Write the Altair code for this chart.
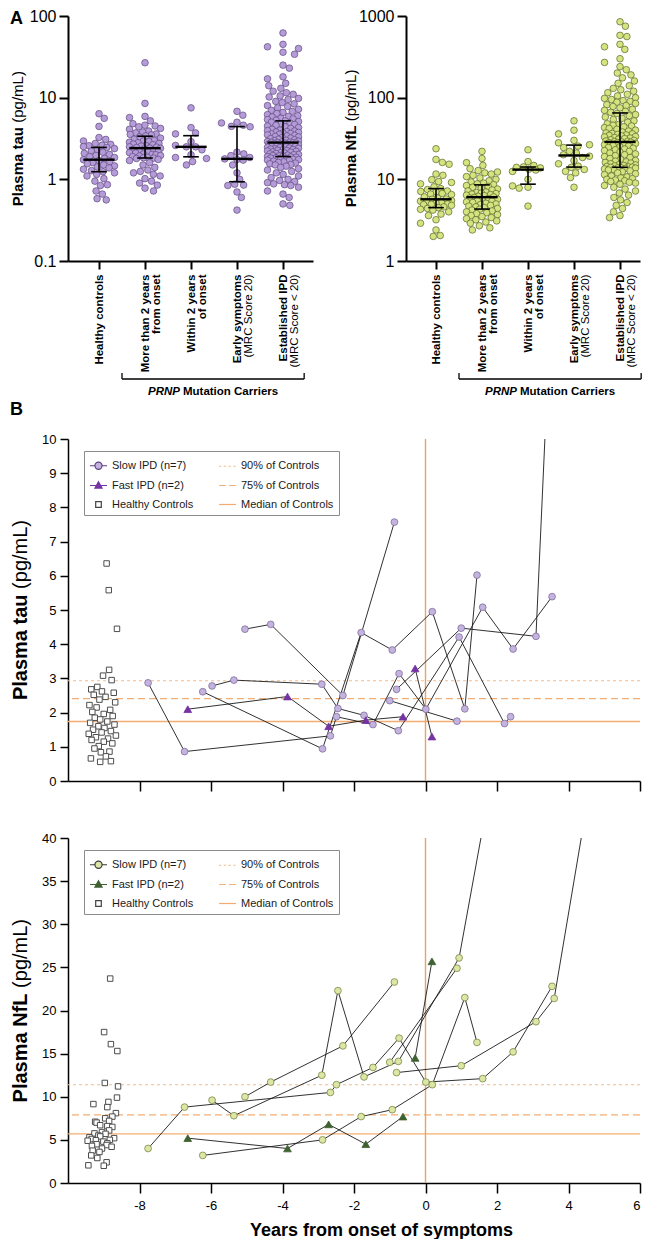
import math
import altair as alt
import numpy as np
import pandas as pd

FONT = "Liberation Sans"
UNIT = "(pg/mL)"

# ---------------- Panel A : groups ----------------
group_line1 = ["Healthy controls", "More than 2 years", "Within 2 years",
               "Early symptoms", "Established IPD"]
group_line2 = ["", "from onset", "of onset", "(MRC Score 20)", "(MRC Score < 20)"]
group_line2_bold = [True, True, True, False, False]
carrier_span = [0.5, 4.46]
carrier_words = ["PRNP", "Mutation Carriers"]
carrier_split = [1.76]

tau_healthy = [6.36, 5.58, 4.45, 3.25, 3.08, 2.95, 2.75, 2.68, 2.62, 2.58,
               2.52, 2.46, 2.38, 2.3, 2.22, 2.15, 2.08, 2.02, 1.96, 1.9,
               1.85, 1.8, 1.74, 1.7, 1.65, 1.6, 1.55, 1.5, 1.46, 1.42,
               1.38, 1.33, 1.28, 1.24, 1.2, 1.15, 1.1, 1.02, 0.95, 0.86,
               0.84, 0.72, 0.66, 0.58, 0.56]
tau_more2 = [26.8, 8.5, 5.9, 5.7, 5.2, 4.8, 4.6, 4.5, 4.4, 4.2,
             4.1, 3.9, 3.8, 3.7, 3.6, 3.55, 3.5, 3.4, 3.3, 3.2,
             3.1, 3.0, 2.95, 2.9, 2.85, 2.8, 2.75, 2.7, 2.65, 2.6,
             2.55, 2.5, 2.48, 2.45, 2.42, 2.4, 2.35, 2.3, 2.25, 2.2,
             2.18, 2.15, 2.12, 2.1, 2.05, 2.02, 2.0, 1.96, 1.93, 1.9,
             1.86, 1.84, 1.82, 1.8, 1.75, 1.7, 1.6, 1.5, 1.4, 1.3,
             1.25, 1.2, 1.15, 1.1, 1.02, 0.95, 0.9, 0.85, 0.78, 0.72]
tau_within2 = [7.5, 4.3, 3.7, 3.6, 2.9, 2.6, 2.5, 2.5, 2.3, 2.0, 1.85, 1.8, 1.65, 1.5]
tau_early = [6.8, 6.1, 5.0, 4.9, 4.6, 4.45, 4.4, 2.15, 2.05, 1.95, 1.85, 1.78,
             1.75, 1.72, 1.5, 1.2, 1.0, 0.87, 0.85, 0.84, 0.7, 0.6, 0.42]
tau_established = [62, 45, 42, 40, 36, 34, 25, 23, 18, 17, 15, 14, 13, 12, 11.5, 11, 10.5, 10.2,
                   9.8, 9.5, 9.0, 8.7, 8.4, 8.0, 7.8, 7.5, 7.2, 7.0, 6.8, 6.6, 6.4, 6.2,
                   6.0, 5.9, 5.8, 5.6, 5.5, 5.4, 5.3, 5.2, 5.1, 5.0,
                   4.9, 4.8, 4.7, 4.6, 4.5, 4.4, 4.3, 4.2, 4.1, 4.0, 3.95, 3.9, 3.85, 3.8,
                   3.75, 3.7, 3.65, 3.6, 3.55, 3.5, 3.45, 3.4, 3.35, 3.3, 3.25, 3.2, 3.15,
                   3.1, 3.05, 3.0, 2.97, 2.94, 2.91, 2.88, 2.86, 2.84, 2.82,
                   2.8, 2.78, 2.76, 2.74, 2.72, 2.7,
                   2.68, 2.65, 2.62, 2.6, 2.57, 2.55, 2.52, 2.5, 2.47, 2.45, 2.42, 2.4, 2.37,
                   2.35, 2.32, 2.3, 2.27, 2.25, 2.22, 2.2, 2.17, 2.15, 2.12, 2.1, 2.07, 2.05,
                   2.02, 2.0, 1.98, 1.96, 1.94, 1.92, 1.9,
                   1.88, 1.86, 1.84, 1.82, 1.8, 1.78, 1.76, 1.74, 1.72, 1.7, 1.67, 1.64, 1.61,
                   1.58, 1.55, 1.52, 1.5,
                   1.45, 1.4, 1.35, 1.3, 1.25, 1.2, 1.15, 1.1, 1.05, 1.0, 0.97, 0.94, 0.91,
                   0.88, 0.86, 0.84, 0.8, 0.72, 0.66, 0.6, 0.5, 0.48]

nfl_healthy = [23.7, 17.5, 16.1, 15.3, 11.6, 11.2, 9.9, 9.4, 9.15, 8.8,
               8.1, 7.7, 7.5, 7.2, 7.1, 7.0, 6.7, 6.6, 6.5, 6.1,
               5.9, 5.75, 5.7, 5.5, 5.4, 5.3, 5.2, 5.1, 5.0, 4.95,
               4.9, 4.8, 4.6, 4.5, 4.4, 4.3, 4.2, 4.0, 3.75, 3.6,
               3.2, 2.9, 2.4, 2.05, 2.0]
nfl_more2 = [22, 18, 16, 14.8, 13.5, 12.8, 12.3, 12, 11.6, 11.2,
             10.8, 10.4, 10, 9.6, 9.3, 9.0, 8.8, 8.6, 8.4, 8.2,
             8.0, 7.8, 7.6, 7.4, 7.2, 7.0, 6.9, 6.8, 6.7, 6.6,
             6.5, 6.4, 6.3, 6.2, 6.1, 6.0, 5.9, 5.8, 5.7, 5.6,
             5.5, 5.4, 5.3, 5.2, 5.1, 5.0, 4.9, 4.8, 4.7, 4.6,
             4.5, 4.4, 4.3, 4.2, 4.1, 4.0, 3.9, 3.8, 3.7, 3.6,
             3.5, 3.4, 3.3, 3.2, 3.1, 3.0, 2.9, 2.7, 2.55, 2.4]
nfl_within2 = [23, 16.5, 14.8, 14.2, 14, 13.8, 13.3, 13, 12.5, 10, 8.3, 8, 7.8, 4.7]
nfl_early = [52, 40, 36, 30, 28, 26.5, 25.5, 24.5, 22, 21, 20, 19.2, 18.5, 17, 15.5,
             14.5, 14, 13.2, 12.5, 12, 10.5, 8]
nfl_established = [850, 750, 580, 560, 450, 420, 390, 300, 270, 240, 220, 200, 190, 175,
                   160, 150, 140, 130, 125, 120, 115, 110, 105, 100,
                   98, 95, 92, 90, 88, 85, 82, 80, 78, 75, 72, 70, 68, 66, 64,
                   62, 60, 58, 56, 54, 52, 50, 48, 47, 46, 45, 44, 43, 42, 41, 40, 39, 38,
                   37, 36.5, 36, 35.5, 35, 34.5, 34, 33.5, 33, 32.5, 32, 31.5, 31, 30.5, 30,
                   29.5, 29.2, 29, 28.7, 28.5, 28.2, 28,
                   27.5, 27, 26.5, 26, 25.5, 25, 24.5, 24, 23.5, 23, 22.5, 22, 21.5, 21, 20.5,
                   20, 19.5, 19, 18.5, 18, 17.5, 17, 16.7, 16.4, 16.1, 15.8, 15.5, 15.2, 15,
                   14.8, 14.6, 14.4, 14.2, 14.1, 14, 13.9, 13.8, 13.7, 13.6,
                   13.4, 13.2, 13, 12.7, 12.4, 12, 11.7, 11.4, 11, 10.7, 10.4, 10.2, 10, 9.8,
                   9.6, 9.4, 9.2, 9, 8.7, 8.4, 8, 7.6, 7.2, 6.8, 6.4, 6, 5.6, 5.2, 4.8, 4.4,
                   4, 3.6, 3.4]

# ---------------- Panel B : longitudinal ----------------
slow_id = ["A"] * 7 + ["B"] * 10 + ["C"] * 9 + ["D"] * 4 + ["F"] * 5 + ["G"] * 2
slow_years = [-6.23, -2.88, -1.80, -0.93, 0.19, 1.10, 1.44,
              -7.76, -6.74, -2.66, -2.49, -1.47, -0.74, 0.01, 1.60, 2.45, 3.54,
              -5.97, -5.36, -2.90, -2.45, -1.72, -0.76, 0.94, 2.21, 2.38,
              -5.05, -4.33, -2.31, -0.87,
              -0.81, 1.00, 3.09, 3.60, 4.60,
              -1.00, 0.88]
slow_tau = [2.61, 0.94, 4.34, 3.83, 4.95, 2.11, 6.02,
            2.87, 0.86, 1.32, 1.88, 1.65, 3.14, 2.10, 5.08, 3.86, 5.39,
            2.78, 2.95, 2.83, 2.12, 1.92, 1.47, 4.21, 1.68, 1.88,
            4.44, 4.58, 2.50, 7.57,
            2.68, 4.47, 4.23, 16.0, 20.0,
            2.35, 1.75]
slow_nfl = [3.2, 5.0, 7.7, 8.5, 11.4, 21.5, 16.3,
            4.0, 8.8, 10.5, 11.4, 13.4, 16.8, 11.7, 12.1, 15.2, 22.8,
            9.6, 7.8, 12.5, 22.3, 12.3, 14.1, 26.1, 55.0, 58.0,
            10.0, 11.7, 15.9, 23.3,
            12.8, 13.6, 18.7, 21.4, 46.0,
            14.0, 24.9]
fast_id = ["F1"] * 5 + ["F2"] * 2
fast_years = [-6.65, -3.86, -2.71, -1.67, -0.63, -0.29, 0.18]
fast_tau = [2.10, 2.47, 1.60, 1.78, 1.88, 3.29, 1.30]
fast_nfl = [5.2, 4.0, 6.8, 4.5, 7.7, 14.5, 25.7]

ctrl_tau = tau_healthy
ctrl_tau_x = [-8.92, -8.86, -8.63, -8.85, -9.02, -8.78, -9.18, -9.35, -9.05, -8.72,
              -9.28, -8.95, -9.12, -8.68, -9.40, -9.20, -8.82, -9.32, -9.00, -8.75,
              -9.25, -9.10, -8.90, -9.38, -8.70, -9.15, -8.98, -9.30, -8.80, -9.06,
              -9.42, -8.66, -9.22, -8.88, -9.34, -9.00, -8.76, -9.14, -9.26, -8.84,
              -9.08, -8.94, -9.36, -8.80, -9.10]
ctrl_nfl = nfl_healthy
ctrl_nfl_x = [-8.82, -8.99, -8.80, -8.62, -8.97, -8.60, -8.63, -8.87, -9.29, -8.90,
              -8.66, -8.76, -8.96, -8.85, -9.24, -9.20, -9.10, -8.90, -8.76, -8.85,
              -9.05, -9.26, -8.95, -9.15, -9.10, -9.40, -8.71, -9.34, -8.83, -9.22,
              -9.45, -9.01, -8.90, -9.20, -8.92, -9.33, -8.78, -9.05, -9.31, -9.12,
              -9.35, -9.18, -8.92, -9.43, -9.00]

tau_refs = [2.93, 2.41, 1.74]   # 90% / 75% / median of controls
nfl_refs = [11.4, 7.9, 5.7]
onset_year = [0]
# legend entries (filled column by column)
legend_names = ["Slow IPD (n=7)", "Fast IPD (n=2)", "Healthy Controls",
                "90% of Controls", "75% of Controls", "Median of Controls"]
x_title = "Years from onset of symptoms"


# ---------------- helpers ----------------
def swarm(vals, ppd, diam, half_width):
    ys = [-ppd * math.log10(v) for v in vals]
    order = sorted(range(len(vals)), key=lambda i: (ys[i], i))
    placed = []
    out = [0.0] * len(vals)
    d2 = diam * diam
    for i in order:
        y = ys[i]
        near = [(py, px) for py, px in placed if abs(py - y) < diam]
        cands = [0.0]
        for py, px in near:
            h = math.sqrt(max(d2 - (py - y) ** 2, 0.0))
            cands += [px + h, px - h]
        cands = sorted(set(round(c, 6) for c in cands), key=lambda c: (abs(c), -c))
        best = None
        for c in cands:
            if abs(c) > half_width:
                continue
            if all((c - px) ** 2 + (y - py) ** 2 >= d2 - 1e-6 for py, px in near):
                best = c
                break
        if best is None:
            grid = np.linspace(-half_width, half_width, 41)
            scores = [min(math.hypot(c - px, y - py) for py, px in near) for c in grid]
            best = float(grid[int(np.argmax(scores))])
        placed.append((y, best))
        out[i] = best
    return out


def js_list(items):
    return "[" + ", ".join("'" + s + "'" for s in items) + "]"


bold_parts, reg_parts = [], []
for i, (l1, l2, b) in enumerate(zip(group_line1, group_line2, group_line2_bold)):
    if l2 == "":
        bold_parts.append((i, js_list([l1])))
    elif b:
        bold_parts.append((i, js_list([l1, l2])))
    else:
        bold_parts.append((i, js_list([l1, ""])))
        reg_parts.append((i, js_list(["", l2])))
bold_expr = "".join(f"datum.value == {i} ? {s} : " for i, s in bold_parts) + "''"
reg_expr = "".join(f"datum.value == {i} ? {s} : " for i, s in reg_parts) + "''"

STEP = 46.0
HA = 245
PPD = HA / 3.0


def title_layers(bold, size, junction, xpos):
    tb = alt.Chart(pd.DataFrame({"t": [bold]})).mark_text(
        angle=270, align="right", baseline="middle", fontSize=size, fontWeight="bold",
        color="black").encode(x=alt.value(xpos), y=alt.value(junction), text="t:N")
    tr = alt.Chart(pd.DataFrame({"t": [UNIT]})).mark_text(
        angle=270, align="left", baseline="middle", fontSize=size, dx=size * 0.28,
        color="black").encode(x=alt.value(xpos), y=alt.value(junction), text="t:N")
    return [tb, tr]


def letter_layer(letter, ypos):
    return alt.Chart(pd.DataFrame({"t": [letter]})).mark_text(
        align="left", baseline="top", fontSize=18, fontWeight="bold", color="black"
    ).encode(x=alt.value(-58), y=alt.value(ypos), text="t:N")


def panel_a(groups, ydom, yvals, fill, stroke, tbold, junction, title_x, width, lead, letter=None):
    rows = []
    for gi, vals in enumerate(groups):
        offs = swarm(vals, PPD, 7.0, 15.5)
        for v, o in zip(vals, offs):
            rows.append({"g": gi, "xp": gi + o / STEP, "v": v})
    df = pd.DataFrame(rows)
    xs = alt.Scale(domain=[-lead / STEP, (width - lead) / STEP], nice=False, zero=False)
    ys = alt.Scale(type="log", domain=ydom, nice=False)
    common = dict(values=[0, 1, 2, 3, 4], labelAngle=270, labelAlign="right",
                  labelBaseline="middle", labelFontSize=11.5, labelLineHeight=11,
                  labelPadding=5, labelOverlap=False, labelFlush=False, labelBound=False,
                  tickSize=8, tickWidth=2, grid=False, title=None, orient="bottom",
                  labelColor="black", labelFont=FONT, labelLimit=0)
    ax1 = alt.Axis(labelExpr=bold_expr, labelFontWeight="bold", domainWidth=2,
                   domainColor="black", tickColor="black", **common)
    ax2 = alt.Axis(labelExpr=reg_expr, labelFontWeight="normal", domain=False,
                   tickOpacity=0, **common)
    yax = alt.Axis(values=yvals, format="~g", tickSize=9, tickWidth=2, domainWidth=2,
                   domainColor="black", tickColor="black", labelFontSize=16, labelPadding=3,
                   labelColor="black", grid=False, title=None)

    def Y(f):
        return alt.Y(f, scale=ys, axis=yax)

    base = alt.Chart(df)
    pts = base.mark_circle(size=44, fill=fill, stroke=stroke, strokeWidth=0.7, opacity=1).encode(
        x=alt.X("xp:Q", scale=xs, axis=ax1), y=Y("v:Q"))
    stats = base.transform_aggregate(
        med="median(v)", q1="q1(v)", q3="q3(v)", groupby=["g"]
    ).transform_calculate(mL="datum.g - 0.34", mR="datum.g + 0.34",
                          cL="datum.g - 0.17", cR="datum.g + 0.17")
    vert = stats.mark_rule(color="black", strokeWidth=1.6).encode(
        x=alt.X("g:Q", scale=xs, axis=ax2), y=Y("q1:Q"), y2="q3:Q")
    med = stats.mark_rule(color="black", strokeWidth=2.4).encode(
        x=alt.X("mL:Q", scale=xs, axis=None), x2="mR:Q", y=Y("med:Q"))
    c1 = stats.mark_rule(color="black", strokeWidth=1.6).encode(
        x=alt.X("cL:Q", scale=xs, axis=None), x2="cR:Q", y=Y("q1:Q"))
    c3 = stats.mark_rule(color="black", strokeWidth=1.6).encode(
        x=alt.X("cL:Q", scale=xs, axis=None), x2="cR:Q", y=Y("q3:Q"))
    br = alt.Chart(pd.DataFrame({"a": [carrier_span[0]], "b": [carrier_span[1]]})).mark_rule(
        color="black", strokeWidth=1.3).encode(
        x=alt.X("a:Q", scale=xs, axis=None), x2="b:Q", y=alt.value(HA + 118))
    ends = alt.Chart(pd.DataFrame({"e": carrier_span})).mark_rule(
        color="black", strokeWidth=1.3).encode(
        x=alt.X("e:Q", scale=xs, axis=None), y=alt.value(HA + 112), y2=alt.value(HA + 118))
    t1 = alt.Chart(pd.DataFrame({"x": carrier_split, "t": [carrier_words[0]]})).mark_text(
        align="right", baseline="middle", fontSize=11.5, fontWeight="bold", fontStyle="italic",
        color="black").encode(x=alt.X("x:Q", scale=xs, axis=None), y=alt.value(HA + 131), text="t:N")
    t2 = alt.Chart(pd.DataFrame({"x": carrier_split, "t": [carrier_words[1]]})).mark_text(
        align="left", baseline="middle", fontSize=11.5, fontWeight="bold", dx=3,
        color="black").encode(x=alt.X("x:Q", scale=xs, axis=None), y=alt.value(HA + 131), text="t:N")
    layers = [pts, vert, med, c1, c3, br, ends, t1, t2] + title_layers(tbold, 15, junction, title_x)
    if letter:
        layers.append(letter_layer(letter, -6))
    return alt.layer(*layers).resolve_axis(x="independent").properties(width=width, height=HA)


SLOW_SYM = "M-1,0H-0.42M0.42,0H1M0.42,0A0.42,0.42,0,1,1,-0.42,0A0.42,0.42,0,1,1,0.42,0Z"
FAST_SYM = "M-1,0H-0.25M0.25,0H1M0,-0.45L0.42,0.3L-0.42,0.3Z"
HC_SYM = "M-0.33,-0.33H0.33V0.33H-0.33Z"
P90_SYM = "M-1,0H-0.72M-0.44,0H-0.16M0.12,0H0.4M0.68,0H0.96"
P75_SYM = "M-0.98,0H-0.2M0.2,0H0.98"
MED_SYM = "M-1,0H1"
ORANGE90 = "#f5bd8a"
ORANGE75 = "#f3ad72"
ORANGEMED = "#f3ad72"
ORANGEV = "#f0a25a"

BW = 572


def panel_b(height, ymax, ystep, refs, s_vals, f_vals, c_vals, c_x, sty, tbold, junction,
            show_x, letter=None):
    xs = alt.Scale(domain=[-10, 6], nice=False, zero=False)
    ys = alt.Scale(domain=[0, ymax], nice=False, zero=True)
    xkw = dict(values=list(range(-8, 7, 2)), tickSize=10, tickWidth=1.5, domainWidth=1.5,
               domainColor="black", tickColor="black", grid=False, labelColor="black")
    if show_x:
        xax = alt.Axis(labels=True, labelExpr="'' + datum.value", labelFontSize=13,
                       labelPadding=6, title=x_title, titleFontSize=18, titleFontWeight="bold",
                       titlePadding=9, titleX=313, titleAlign="center", titleBaseline="top",
                       titleColor="black", **xkw)
    else:
        xax = alt.Axis(labels=False, title=None, **xkw)
    yax = alt.Axis(values=list(range(0, ymax + 1, ystep)), labelFontSize=13, labelPadding=4,
                   tickSize=8, tickWidth=1.5, domainWidth=1.5, domainColor="black",
                   tickColor="black", labelColor="black", grid=False, title=None)

    def X(f):
        return alt.X(f, scale=xs, axis=xax)

    def Y(f):
        return alt.Y(f, scale=ys, axis=yax)

    layers = []
    ref_style = [(ORANGE90, 1.1, [3, 3]), (ORANGE75, 1.4, [7, 4]), (ORANGEMED, 1.4, None)]
    for val, (col, w, dash) in zip(refs, ref_style):
        kw = dict(color=col, strokeWidth=w)
        if dash:
            kw["strokeDash"] = dash
        layers.append(alt.Chart(pd.DataFrame({"val": [val]})).mark_rule(**kw).encode(y=Y("val:Q")))
    layers.append(alt.Chart(pd.DataFrame({"yr": onset_year})).mark_rule(
        color=ORANGEV, strokeWidth=1.4).encode(x=X("yr:Q")))

    slow_df = pd.DataFrame({"pid": slow_id, "yr": slow_years, "val": s_vals})
    fast_df = pd.DataFrame({"pid": fast_id, "yr": fast_years, "val": f_vals})
    line_df = pd.concat([slow_df, fast_df], ignore_index=True)
    layers.append(alt.Chart(line_df).mark_line(color="#1a1a1a", strokeWidth=0.9, clip=True).encode(
        x=X("yr:Q"), y=Y("val:Q"), detail="pid:N", order="yr:Q"))
    ctrl_df = pd.DataFrame({"yr": c_x, "val": c_vals})
    layers.append(alt.Chart(ctrl_df).mark_square(
        size=30, fill="white", stroke="#4d4d4d", strokeWidth=1, opacity=1, clip=True).encode(
        x=X("yr:Q"), y=Y("val:Q")))
    layers.append(alt.Chart(slow_df).mark_circle(
        size=46, fill=sty["slow_fill"], stroke=sty["slow_stroke"], strokeWidth=0.8, opacity=1,
        clip=True).encode(x=X("yr:Q"), y=Y("val:Q")))
    layers.append(alt.Chart(fast_df).mark_point(
        shape="triangle-up", size=60, filled=True, fill=sty["fast"], stroke=sty["fast"],
        strokeWidth=0.8, opacity=1, clip=True).encode(x=X("yr:Q"), y=Y("val:Q")))

    leg = alt.Legend(title=None, orient="none", legendX=16, legendY=12, columns=2,
                     columnPadding=22, rowPadding=4, padding=5, strokeColor="#8c8c8c",
                     fillColor="white", labelFont=FONT, labelFontSize=11, labelColor="#1a1a1a",
                     labelOffset=4, symbolSize=289, symbolStrokeWidth=1.2, labelLimit=0)
    shapes = [SLOW_SYM, FAST_SYM, HC_SYM, P90_SYM, P75_SYM, MED_SYM]
    fills = [sty["slow_fill"], sty["fast"], "white", "transparent", "transparent", "transparent"]
    strokes = [sty["slow_line"], sty["fast"], "#444444", ORANGE90, ORANGE75, ORANGEMED]
    layers.append(alt.Chart(pd.DataFrame({"series": legend_names})).transform_filter("false")
                  .mark_point(opacity=1).encode(
        shape=alt.Shape("series:N", scale=alt.Scale(domain=legend_names, range=shapes), legend=leg),
        fill=alt.Fill("series:N", scale=alt.Scale(domain=legend_names, range=fills), legend=leg),
        stroke=alt.Stroke("series:N", scale=alt.Scale(domain=legend_names, range=strokes), legend=leg)))
    layers += title_layers(tbold, 20, junction, -47)
    if letter:
        layers.append(letter_layer(letter, -38))
    return alt.layer(*layers).properties(width=BW, height=height)


a_left = panel_a([tau_healthy, tau_more2, tau_within2, tau_early, tau_established],
                 [0.1, 100], [0.1, 1, 10, 100], "#b59cd8", "#5f4b80",
                 "Plasma tau", HA / 2 - 11.5, -50, 245, 31, letter="A")
a_right = panel_a([nfl_healthy, nfl_more2, nfl_within2, nfl_early, nfl_established],
                  [1, 1000], [1, 10, 100, 1000], "#d4e480", "#5a6428",
                  "Plasma NfL", HA / 2 - 13, -55, 234, 30)
row_a = alt.hconcat(a_left, a_right, spacing=93, bounds="flush")

tau_sty = {"slow_fill": "#c4b3de", "slow_stroke": "#80709d", "slow_line": "#5c3f82", "fast": "#7432a3"}
nfl_sty = {"slow_fill": "#dce7a5", "slow_stroke": "#7a8848", "slow_line": "#3a3a3a", "fast": "#3f6130"}
b_top = panel_b(342, 10, 1, tau_refs, slow_tau, fast_tau, ctrl_tau, ctrl_tau_x, tau_sty,
                "Plasma tau", 171 - 15.5, False, letter="B")
b_bot = panel_b(345, 40, 5, nfl_refs, slow_nfl, fast_nfl, ctrl_nfl, ctrl_nfl_x, nfl_sty,
                "Plasma NfL", 172.5 - 17, True)
row_b = alt.vconcat(b_top, b_bot, spacing=57, bounds="flush").resolve_scale(
    fill="independent", stroke="independent", shape="independent")

# nested flush concat reports no height of its own, so the gap includes row A's plot height
chart = alt.vconcat(row_a, row_b, spacing=178 + HA, bounds="flush").properties(
    padding={"left": 2, "top": 0, "right": 0, "bottom": 0}
).configure(font=FONT).configure_view(stroke=None)

chart.save("out.html", embed_options={"renderer": "svg", "actions": False})
